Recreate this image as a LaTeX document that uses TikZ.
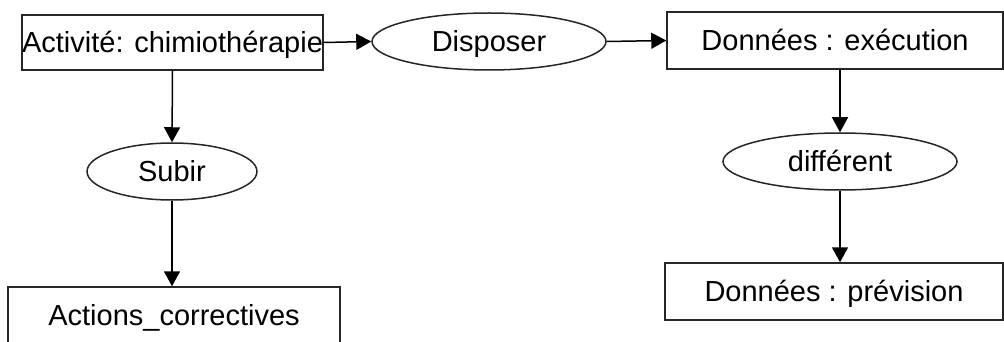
\documentclass[tikz,border=0pt]{standalone}
\usepackage{fontspec}
\setmainfont{Liberation Sans}
\usetikzlibrary{shapes.geometric,arrows.meta}
\begin{document}
\begin{tikzpicture}[x=1pt,y=-1pt,
  every node/.style={font=\fontsize{29}{34}\selectfont, inner sep=0pt, text height=26pt, text depth=5.2pt, line width=1.5pt, draw=black!85},
  boxnode/.style={rectangle},
  ellnode/.style={ellipse},
  conn/.style={line width=1.5pt, -{Triangle[length=15pt,width=16pt]}}]
\useasboundingbox (0,0) rectangle (1004,342);
\clip (0,0) rectangle (1004,342);
\node[boxnode, minimum width=301pt, minimum height=55pt] (A) at (172.5,42.5) {Activité: chimiothérapie};
\node[ellnode, minimum width=234pt, minimum height=57pt] (D) at (489,41.5) {Disposer};
\node[boxnode, minimum width=336pt, minimum height=57pt] (B) at (835,40.5) {Données : exécution};
\node[ellnode, minimum width=170pt, minimum height=57pt] (S) at (172,171.5) {Subir};
\node[boxnode, minimum width=332pt, minimum height=57pt] (Ac) at (174,315.5) {Actions\_correctives};
\node[ellnode, minimum width=234pt, minimum height=57pt] (Df) at (840,161.5) {différent};
\node[boxnode, minimum width=338pt, minimum height=57pt] (P) at (834,291.5) {Données : prévision};
\draw[conn] (A.east) -- (D.west);
\draw[conn] (D.east) -- (B.west);
\draw[conn] (A.south) -- (S.north);
\draw[conn] (S.south) -- (S.south |- Ac.north);
\draw[conn] (Df.north |- B.south) -- (Df.north);
\draw[conn] (Df.south) -- (Df.south |- P.north);
\end{tikzpicture}
\end{document}
